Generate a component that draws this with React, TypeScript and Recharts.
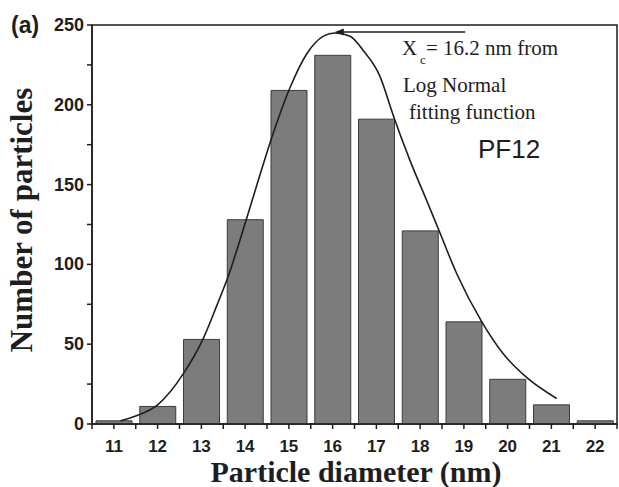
import {
  ComposedChart,
  Bar,
  Line,
  XAxis,
  YAxis,
  ReferenceArea,
  ReferenceLine,
  ReferenceDot,
} from "recharts";

// histogram bins (nm) and counts
const diameters = [11, 12, 13, 14, 15, 16, 17, 18, 19, 20, 21, 22];
const counts = [2, 11, 53, 128, 209, 231, 191, 121, 64, 28, 12, 2];

// log normal fit
const fitX = [11.15, 11.5, 12, 12.6, 13.05, 13.35, 13.62, 13.88, 14.26, 14.64, 15.03, 15.41, 15.79, 16.05, 16.4, 16.7, 17.08, 17.39, 17.77, 18.15, 18.42, 18.84, 19.41, 19.9, 20.44, 21.12];
const fitY = [2, 5, 12, 32, 54, 74, 93, 115, 149, 182, 211, 232, 243, 245, 243, 234, 218, 193, 165, 140, 122, 94, 64, 44, 29, 16];

const xTicks = [10.5, 11, 11.5, 12, 12.5, 13, 13.5, 14, 14.5, 15, 15.5, 16, 16.5, 17, 17.5, 18, 18.5, 19, 19.5, 20, 20.5, 21, 21.5, 22, 22.5];
const yTicks = [0, 25, 50, 75, 100, 125, 150, 175, 200, 225, 250];

const barData = diameters.map((d, i) => ({ x: d, count: counts[i] }));
const fitData = fitX.map((x, i) => ({ x, y: fitY[i] }));

const INK = "#1e1e1e";
const TICK_FONT = "'Liberation Sans', Arial, sans-serif";
const SERIF = "'Liberation Serif', 'Times New Roman', serif";

const XTick = (props: any) => {
  const { x, y, payload } = props;
  if (!Number.isInteger(payload.value) || payload.value < 11 || payload.value > 22) return <g />;
  return (
    <text x={x} y={y + 21} textAnchor="middle" fontFamily={TICK_FONT} fontWeight="bold" fontSize={17} fill={INK}>
      {payload.value}
    </text>
  );
};

const YTick = (props: any) => {
  const { x, y, payload } = props;
  if (payload.value % 50 !== 0) return <g />;
  return (
    <text x={x - 1} y={y + 6} textAnchor="end" fontFamily={TICK_FONT} fontWeight="bold" fontSize={18} fill={INK}>
      {payload.value}
    </text>
  );
};

const ArrowHead = (props: any) => {
  const { cx, cy } = props;
  return <path d={`M${cx},${cy} L${cx + 9},${cy - 3.5} L${cx + 9},${cy + 3.5} Z`} fill={INK} />;
};

export default function App() {
  return (
    <div style={{ position: "absolute", left: 0, top: 0, width: 619, height: 487, background: "#fff" }}>
      <ComposedChart
        width={619}
        height={487}
        data={barData}
        margin={{ top: 25, right: 2, bottom: 0, left: 0 }}
      >
        <XAxis xAxisId="bars" dataKey="x" type="category" height={0} hide />
        <XAxis
          xAxisId="num"
          dataKey="x"
          type="number"
          domain={[10.5, 22.5]}
          ticks={xTicks}
          tick={<XTick />}
          interval={0}
          tickSize={5}
          height={63}
          stroke={INK}
          strokeWidth={1.5}
          allowDataOverflow
        />
        <YAxis
          type="number"
          domain={[0, 250]}
          ticks={yTicks}
          tick={<YTick />}
          interval={0}
          tickSize={5}
          width={92}
          stroke={INK}
          strokeWidth={1.5}
          allowDataOverflow
        />
        <ReferenceArea xAxisId="num" x1={10.5} x2={22.5} y1={0} y2={250} fill="none" stroke={INK} strokeWidth={1.5} />
        <Bar
          xAxisId="bars"
          dataKey="count"
          barSize={36}
          fill="#7c7c7c"
          stroke="#3c3c3c"
          strokeWidth={1}
          isAnimationActive={false}
        />
        <Line
          xAxisId="num"
          data={fitData}
          dataKey="y"
          type="monotone"
          stroke={INK}
          strokeWidth={1.6}
          dot={false}
          isAnimationActive={false}
        />
        <ReferenceLine
          xAxisId="num"
          segment={[{ x: 16.1, y: 245.6 }, { x: 19.03, y: 245.6 }]}
          stroke={INK}
          strokeWidth={1.5}
        />
        <ReferenceDot xAxisId="num" x={16.05} y={245.6} r={4} shape={<ArrowHead />} />
      </ComposedChart>
      <svg width={619} height={487} style={{ position: "absolute", left: 0, top: 0, pointerEvents: "none" }}>
        <text x={11} y={33} fontFamily={TICK_FONT} fontWeight="bold" fontSize={23} fill={INK}>(a)</text>
        <text
          transform="translate(32,220) rotate(-90)"
          textAnchor="middle"
          fontFamily={SERIF}
          fontWeight="bold"
          fontSize={31}
          fill={INK}
        >
          Number of particles
        </text>
        <text x={356} y={482} textAnchor="middle" fontFamily={SERIF} fontWeight="bold" fontSize={30} fill={INK}>
          Particle diameter (nm)
        </text>
        <text x={402} y={55} fontFamily={SERIF} fontSize={21} fill={INK}>
          X
        </text>
        <text x={420} y={64} fontFamily={SERIF} fontSize={13} fill={INK}>
          c
        </text>
        <text x={426} y={55} fontFamily={SERIF} fontSize={21} fill={INK}>
          = 16.2 nm from
        </text>
        <text x={403} y={92} fontFamily={SERIF} fontSize={21} fill={INK}>
          Log Normal
        </text>
        <text x={409} y={119} fontFamily={SERIF} fontSize={21} fill={INK}>
          fitting function
        </text>
        <text x={478} y={158} fontFamily={TICK_FONT} fontSize={26} fill={INK}>
          PF12
        </text>
      </svg>
    </div>
  );
}
